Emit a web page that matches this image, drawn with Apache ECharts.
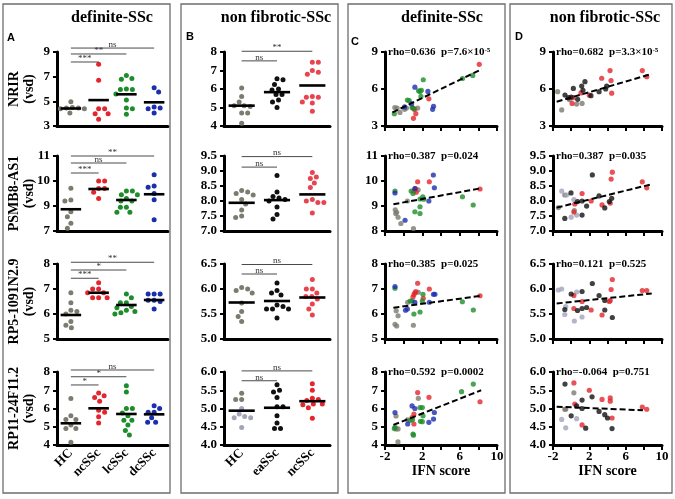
<!DOCTYPE html>
<html><head><meta charset="utf-8">
<script src="https://cdn.jsdelivr.net/npm/echarts@6/dist/echarts.min.js"></script>
<style>html,body{margin:0;padding:0;background:#fff}#c{width:675px;height:499px}</style>
</head><body><div id="c"></div>
<script>
// ---------------- DATA ----------------
const catsA = ['HC','ncSSc','lcSSc','dcSSc'];
const catsB = ['HC','eaSSc','ncSSc'];
const genes = ['NRIR','PSMB8-AS1','RP5-1091N2.9','RP11-24F11.2'];
const titles = ['definite-SSc','non fibrotic-SSc','definite-SSc','non fibrotic-SSc'];
const panelLetters = ['A','B','C','D'];
const yRangeA = [[3,9,2],[8,11,1],[5,8,1],[4,8,1]];
const yRangeB = [[4,8,1],[7,9.5,0.5],[5,6.5,0.5],[4,6,0.5]];
const yRangeC = [[3,9,3],[8,11,1],[5,8,1],[4,8,1]];
const yRangeD = [[3,9,3],[7,9.5,0.5],[5,6.5,0.5],[4,6,0.5]];
const yTickLabelA2 = {8:'7', 9:'9', 10:'10', 11:'11'};
const xTicksIFN = [-2, 2, 6, 10];

// Panel A (definite-SSc groups)
const A1_HC = [4.97,4.45,4.40,4.45,4.50,4.40,4.05];
const A1_nc = [8.0,6.7,4.4,4.4,4.0,4.0,3.55];
const A1_lc = [7.1,6.85,6.8,6.0,5.95,5.95,5.6,5.1,4.4,4.45,3.95];
const A1_dc = [6.1,5.75,4.55,4.4,4.45,4.05];
const A1_mean = [4.42,5.1,5.57,4.92];
const A2_HC = [9.71,9.24,9.2,8.77,8.57,8.31,8.11];
const A2_nc = [10.0,10.0,9.7,9.7,9.55,9.3];
const A2_lc = [9.6,9.6,9.45,9.45,9.3,9.2,9.2,8.95,8.95,8.75,8.75];
const A2_dc = [10.25,9.8,9.75,9.5,9.25,8.45];
const A2_mean = [8.87,9.68,9.24,9.47];
const A3_HC = [6.85,6.45,6.15,6.1,6.0,5.7,5.55,5.45];
const A3_nc = [7.25,7.0,7.0,6.85,6.85,6.65,6.65,6.65];
const A3_lc = [6.8,6.65,6.45,6.45,6.3,6.25,6.15,6.1,6.05,6.0];
const A3_dc = [6.8,6.8,6.8,6.55,6.55,6.5,6.2];
const A3_mean = [5.96,6.85,6.36,6.56];
const A4_HC = [6.55,5.6,5.4,5.4,5.1,4.9,4.9,4.15];
const A4_nc = [6.85,6.7,6.6,6.4,5.9,5.8,5.55,5.2];
const A4_lc = [7.25,6.9,6.0,6.0,5.75,5.6,5.35,5.35,5.1,4.8,4.55];
const A4_dc = [6.15,6.0,5.8,5.8,5.5,5.25,5.25];
const A4_mean = [5.19,6.01,5.7,5.68];
const A_sigTo = [3,2,1];
const A1_sigY = [9.32,8.84,8.19], A1_sigLab = ['ns','**','***'];
const A2_sigY = [11.0,10.72,10.32], A2_sigLab = ['**','ns','***'];
const A3_sigY = [8.07,7.76,7.43], A3_sigLab = ['**','*','***'];
const A4_sigY = [8.11,7.74,7.29], A4_sigLab = ['ns','*','*'];

// Panel B (non fibrotic-SSc groups)
const B1_HC = [6.05,5.6,5.3,5.1,5.1,5.05,4.7,4.7,4.15];
const B1_ea = [6.55,6.5,6.25,6.0,5.95,5.7,5.7,5.4,5.3,5.0];
const B1_nc = [7.45,7.45,7.0,6.9,6.8,5.6,5.55,5.55,5.3,5.25,4.8];
const B1_mean = [5.1,5.83,6.19];
const B2_HC = [8.35,8.3,8.25,8.2,8.05,7.9,7.7,7.5,7.45];
const B2_ea = [8.85,8.3,8.15,8.1,8.05,8.0,7.8,7.55,7.4];
const B2_nc = [8.95,8.8,8.75,8.6,8.45,8.05,8.0,7.95,7.95,7.6];
const B2_mean = [7.94,8.03,8.22];
const B3_HC = [6.03,6.0,5.97,5.92,5.72,5.55,5.45,5.35];
const B3_ea = [6.12,5.97,5.92,5.88,5.68,5.65,5.6,5.6,5.6,5.42];
const B3_nc = [6.19,6.0,6.0,5.92,5.85,5.85,5.8,5.7,5.6,5.48];
const B3_mean = [5.73,5.76,5.83];
const B4_HC_dark = [5.42,5.25,5.25];
const B4_HC_light = [5.0,4.85,4.78,4.75,4.75,4.48];
const B4_ea = [5.65,5.5,5.45,5.3,5.05,5.05,4.8,4.6,4.45,4.45];
const B4_nc = [5.68,5.5,5.28,5.25,5.22,5.12,5.12,5.1,5.02,4.73];
const B4_mean = [4.94,5.02,5.2];
const B_sigTo = [2,1];
const B1_sigY = [8.04,7.52], B1_sigLab = ['**','ns'];
const B2_sigY = [9.48,9.13], B2_sigLab = ['ns','ns'];
const B3_sigY = [6.49,6.3], B3_sigLab = ['ns','ns'];
const B4_sigY = [6.03,5.76], B4_sigLab = ['ns','ns'];

// Panel C (IFN score vs expression, definite-SSc)
const C1_HC = [[-0.95,4.5],[-0.7,4.45],[-0.4,4.1],[0.3,4.45],[1.5,4.45],[0.1,4.35]];
const C1_nc = [[8.1,8.0],[2.7,5.2],[1.15,4.35],[1.3,4.0],[1.05,3.62],[1.0,4.45]];
const C1_lc = [[7.4,7.1],[6.3,6.85],[2.1,6.75],[1.9,5.9],[1.6,5.85],[1.75,5.8],[1.85,5.4],[0.4,5.1],[0.6,5.05],[0.9,4.5],[1.1,4.4],[-1.0,4.0]];
const C1_dc = [[1.2,6.15],[2.6,5.8],[3.2,4.6],[3.1,4.35],[0.1,4.55],[0.85,4.8]];
const C1_fit = [[-1.2,4.1],[8.35,7.6]];
const C2_HC = [[1.55,9.65],[0.4,9.2],[-0.9,8.85],[-0.75,8.75],[-0.85,8.7],[-0.6,8.55],[-0.3,8.3],[1.05,8.1]];
const C2_nc = [[1.5,9.97],[2.75,9.97],[1.1,9.6],[1.25,9.7],[1.35,9.55],[8.18,9.68]];
const C2_lc = [[-0.93,9.6],[0.8,9.6],[1.0,9.5],[2.05,9.37],[2.15,9.27],[1.75,9.28],[1.75,8.97],[1.2,8.77],[1.75,8.7],[6.3,9.37],[7.45,9.04]];
const C2_dc = [[-0.93,9.52],[3.18,10.24],[3.29,9.73],[1.2,9.7],[2.7,9.2],[0.15,8.43]];
const C2_fit = [[-1.1,9.07],[8.3,9.71]];
const C3_HC = [[1.57,6.87],[0.43,6.47],[-0.8,6.13],[-0.6,5.93],[-0.93,5.59],[-0.75,5.52],[1.04,5.55]];
const C3_nc = [[1.5,7.23],[2.75,7.0],[1.2,6.85],[1.1,6.78],[1.3,6.9],[1.0,6.68],[2.1,6.63],[8.18,6.73]];
const C3_lc = [[-0.93,7.03],[2.07,6.79],[0.7,6.52],[0.9,6.52],[2.0,6.52],[1.1,6.0],[1.75,6.08],[6.29,6.49],[7.46,6.16]];
const C3_dc = [[-0.93,7.1],[3.2,6.79],[3.35,6.79],[1.2,6.47],[2.75,6.47],[0.4,6.2],[0.2,6.15]];
const C3_fit = [[-1.1,6.25],[8.3,6.73]];
const C4_HC = [[1.57,6.56],[-0.82,5.59],[0.4,5.38],[-0.8,4.88],[-0.6,4.88],[-0.61,4.17]];
const C4_nc = [[1.5,6.87],[2.71,6.61],[8.18,6.37],[1.1,5.7],[0.9,5.5],[1.1,5.15]];
const C4_lc = [[7.46,7.34],[6.2,6.92],[1.75,6.05],[2.0,6.05],[2.07,5.6],[0.7,5.35],[0.95,5.38],[1.8,5.3],[2.0,5.28],[-0.93,4.97],[-1.0,4.9],[1.0,4.6],[1.05,4.54]];
const C4_dc = [[0.9,6.14],[1.2,6.0],[-0.93,5.78],[3.29,5.78],[3.2,5.42],[2.7,5.24],[0.43,5.15]];
const C4_fit = [[-1.1,5.1],[8.3,7.0]];
const C_stats = ['rho=0.636  p=7.6×10{s|-5}','rho=0.387  p=0.024','rho=0.385  p=0.025','rho=0.592  p=0.0002'];

// Panel D (IFN score vs expression, non fibrotic-SSc)
const D1_HC = [[-1.49,5.78],[-0.2,5.14],[0.6,4.78],[1.2,4.83],[-1.04,4.3]];
const D1_HCl = [];
const D1_nc = [[7.83,7.49],[8.32,7.0],[4.28,7.49],[3.36,6.87],[4.39,6.68],[4.46,5.66],[1.08,5.68],[0.2,5.3],[0.1,4.83],[2.0,5.5]];
const D1_ea = [[1.52,6.59],[1.16,6.24],[3.91,6.24],[3.8,6.0],[1.3,5.9],[3.07,5.78],[0.24,6.05],[-0.68,5.51],[0.0,5.35],[2.18,5.46],[0.72,5.16],[-0.3,5.3]];
const D1_fit = [[-1.6,4.97],[8.87,7.22]];
const D2_HC = [[-0.7,8.2],[-1.4,7.78],[0.35,7.68]];
const D2_HCl = [[-1.04,8.33],[-0.5,8.2],[0.3,8.05],[0.6,7.53],[0.0,7.46]];
const D2_nc = [[4.53,8.96],[4.4,8.73],[7.83,8.64],[8.32,8.44],[1.2,8.25],[2.2,8.0],[0.4,7.9],[3.4,7.87],[4.3,7.93],[0.3,7.63]];
const D2_ea = [[2.33,8.87],[-0.02,8.27],[3.07,8.17],[4.46,8.09],[0.7,7.98],[1.2,8.0],[4.2,7.98],[1.7,7.83],[3.7,7.77],[1.2,7.53],[-0.7,7.42]];
const D2_fit = [[-1.6,7.78],[8.87,8.56]];
const D3_HC = [];
const D3_HCl = [[-1.42,5.98],[-1.05,6.0],[0.6,5.94],[-0.7,5.49],[0.35,5.36],[1.2,5.44],[-0.6,5.65]];
const D3_nc = [[4.53,6.19],[4.4,5.99],[7.83,5.97],[8.32,5.97],[0.3,5.87],[4.2,5.75],[4.3,5.77],[1.2,5.75],[0.3,5.61],[2.2,5.58],[3.4,5.48]];
const D3_ea = [[2.33,6.11],[1.2,5.95],[0.0,5.9],[3.07,5.87],[3.7,5.77],[1.7,5.63],[-0.7,5.59],[0.7,5.57],[1.2,5.61],[3.7,5.58],[4.53,5.43]];
const D3_fit = [[-1.6,5.71],[8.87,5.91]];
const D4_HC = [[0.3,5.43],[-0.7,4.98],[-0.6,4.98]];
const D4_HCl = [[-1.04,4.7],[0.6,4.72],[-0.6,4.47]];
const D4_nc = [[0.3,5.7],[2.0,5.5],[3.4,5.25],[4.3,5.29],[4.3,5.2],[0.4,5.12],[7.83,5.04],[8.32,4.98],[4.5,4.74],[1.2,4.55]];
const D4_ea = [[-0.68,5.67],[2.3,5.32],[1.2,5.23],[0.6,5.07],[1.2,5.0],[3.07,4.92],[3.7,4.83],[4.0,4.74],[0.0,4.8],[1.6,4.46],[4.5,4.45]];
const D4_fit = [[-1.6,5.05],[7.9,4.95]];
const D_stats = ['rho=0.682  p=3.3×10{s|-5}','rho=0.387  p=0.035','rho=0.121  p=0.525','rho=-0.064  p=0.751'];

// ---------------- STYLE / LAYOUT ----------------
const SERIF = '"Liberation Serif", "Times New Roman", serif';
const SANS = '"Liberation Sans", Arial, sans-serif';
const cGrey = '#7b7b6f', cLight = '#a3a3ba', cRed = '#e3262d', cRedB = '#e8444f',
      cGreen = '#1d8d2b', cBlue = '#1b2eae', cBlack = '#111111';
const colLeft = [57, 224, 385, 553], colWidth = [111, 106, 112, 109];
const rowTop = [52, 156, 264, 372], rowHeight = [74, 75, 75, 73];

const Arows = [
  {g:[[A1_HC,cGrey],[A1_nc,cRed],[A1_lc,cGreen],[A1_dc,cBlue]], mean:A1_mean, sigY:A1_sigY, sigLab:A1_sigLab},
  {g:[[A2_HC,cGrey],[A2_nc,cRed],[A2_lc,cGreen],[A2_dc,cBlue]], mean:A2_mean, sigY:A2_sigY, sigLab:A2_sigLab},
  {g:[[A3_HC,cGrey],[A3_nc,cRed],[A3_lc,cGreen],[A3_dc,cBlue]], mean:A3_mean, sigY:A3_sigY, sigLab:A3_sigLab},
  {g:[[A4_HC,cGrey],[A4_nc,cRed],[A4_lc,cGreen],[A4_dc,cBlue]], mean:A4_mean, sigY:A4_sigY, sigLab:A4_sigLab}
];
const Brows = [
  {g:[[B1_HC,cGrey,0],[B1_ea,cBlack,1],[B1_nc,cRedB,2]], mean:B1_mean, sigY:B1_sigY, sigLab:B1_sigLab},
  {g:[[B2_HC,cGrey,0],[B2_ea,cBlack,1],[B2_nc,cRedB,2]], mean:B2_mean, sigY:B2_sigY, sigLab:B2_sigLab},
  {g:[[B3_HC,cGrey,0],[B3_ea,cBlack,1],[B3_nc,cRedB,2]], mean:B3_mean, sigY:B3_sigY, sigLab:B3_sigLab},
  {g:[[B4_HC_dark,cGrey,0],[B4_HC_light,cLight,0],[B4_ea,cBlack,1],[B4_nc,cRed,2]], mean:B4_mean, sigY:B4_sigY, sigLab:B4_sigLab}
];
const Crows = [
  {s:[[C1_HC,cGrey],[C1_nc,cRed],[C1_lc,cGreen],[C1_dc,cBlue]], fit:C1_fit},
  {s:[[C2_HC,cGrey],[C2_nc,cRed],[C2_lc,cGreen],[C2_dc,cBlue]], fit:C2_fit},
  {s:[[C3_HC,cGrey],[C3_nc,cRed],[C3_lc,cGreen],[C3_dc,cBlue]], fit:C3_fit},
  {s:[[C4_HC,cGrey],[C4_nc,cRed],[C4_lc,cGreen],[C4_dc,cBlue]], fit:C4_fit}
];
const Drows = [
  {s:[[D1_HC,cGrey],[D1_HCl,cLight],[D1_nc,cRed],[D1_ea,cBlack]], fit:D1_fit},
  {s:[[D2_HC,cGrey],[D2_HCl,cLight],[D2_nc,cRed],[D2_ea,cBlack]], fit:D2_fit},
  {s:[[D3_HC,cGrey],[D3_HCl,cLight],[D3_nc,cRed],[D3_ea,cBlack]], fit:D3_fit},
  {s:[[D4_HC,cGrey],[D4_HCl,cLight],[D4_nc,cRed],[D4_ea,cBlack]], fit:D4_fit}
];

// ---------------- BUILD ----------------
const grids = [], xAxes = [], yAxes = [], series = [], graphics = [];

function swarmOffsets(data, ppu, D) {
  const off = new Array(data.length).fill(0);
  const byCat = {};
  data.forEach((d, i) => { (byCat[d[0]] = byCat[d[0]] || []).push(i); });
  Object.keys(byCat).forEach(k => {
    const idxs = byCat[k].slice().sort((a, b) => data[b][1] - data[a][1]);
    const placed = [];
    idxs.forEach((i, n) => {
      const y = data[i][1] * ppu;
      let best = 0;
      for (let s = 0; s < 80; s += 0.5) {
        const cands = n % 2 ? [s, -s] : [-s, s];
        let ok = null;
        for (const x of cands) {
          if (placed.every(p => (p.x - x) * (p.x - x) + (p.y - y) * (p.y - y) >= D * D)) { ok = x; break; }
        }
        if (ok !== null) { best = ok; break; }
      }
      placed.push({x: best, y});
      off[i] = best;
    });
  });
  return off;
}

function yAxisDef(gi, rng, fmt) {
  return {
    type: 'value', gridIndex: gi, min: rng[0], max: rng[1], interval: rng[2],
    axisLine: {show: true, onZero: false, lineStyle: {color: '#000', width: 3}},
    axisTick: {show: true, length: 4, lineStyle: {color: '#000', width: 2}},
    axisLabel: {show: true, color: '#000', fontFamily: SERIF, fontWeight: 'bold', fontSize: 13, margin: 7, formatter: fmt},
    splitLine: {show: false}
  };
}

function catPanel(col, rows, cats, ranges, sigTo) {
  rows.forEach((row, r) => {
    const gi = grids.length;
    grids.push({left: colLeft[col], top: rowTop[r], width: colWidth[col], height: rowHeight[r]});
    xAxes.push({
      type: 'category', gridIndex: gi, data: cats, boundaryGap: true,
      axisLine: {show: true, onZero: false, lineStyle: {color: '#000', width: 3}},
      axisTick: {show: false},
      axisLabel: {show: r === 3, interval: 0, rotate: 45, margin: 6, color: '#000', fontFamily: SERIF, fontWeight: 'bold', fontSize: 13},
      splitLine: {show: false}
    });
    const rng = ranges[r];
    let fmt;
    if (col === 0 && r === 1) fmt = v => (yTickLabelA2[v] !== undefined ? yTickLabelA2[v] : String(v));
    else if (rng[2] < 1) fmt = v => v.toFixed(1);
    else fmt = v => String(v);
    yAxes.push(yAxisDef(gi, rng, fmt));

    // points
    const data = [], colors = [];
    row.g.forEach((grp, k) => {
      const cat = grp.length > 2 ? grp[2] : k;
      grp[0].forEach(v => { data.push([cat, v]); colors.push(grp[1]); });
    });
    let cache = null;
    series.push({
      type: 'custom', xAxisIndex: gi, yAxisIndex: gi, data, clip: false, z: 3,
      encode: {x: 0, y: 1}, silent: true,
      renderItem(params, api) {
        const ppu = api.size([0, 1])[1];
        if (!cache || cache.ppu !== ppu) cache = {ppu, off: swarmOffsets(data, ppu, 5.9)};
        const p = api.coord([api.value(0), api.value(1)]);
        return {type: 'circle', shape: {cx: p[0] + cache.off[params.dataIndex], cy: p[1], r: 2.5},
                style: {fill: colors[params.dataIndex]}};
      }
    });
    // mean lines
    series.push({
      type: 'custom', xAxisIndex: gi, yAxisIndex: gi, data: row.mean.map((m, i) => [i, m]),
      clip: false, z: 5, encode: {x: 0, y: 1}, silent: true,
      renderItem(params, api) {
        const p = api.coord([api.value(0), api.value(1)]);
        const h = api.size([1, 0])[0] * 0.37;
        return {type: 'line', shape: {x1: p[0] - h, y1: p[1], x2: p[0] + h, y2: p[1]},
                style: {stroke: '#000', lineWidth: 2.6}};
      }
    });
    // significance brackets
    const sigData = row.sigY.map((y, i) => [0, sigTo[i], y]);
    const labs = row.sigLab;
    series.push({
      type: 'custom', xAxisIndex: gi, yAxisIndex: gi, data: sigData, clip: false, z: 4,
      encode: {x: [0, 1], y: 2}, silent: true,
      renderItem(params, api) {
        const p1 = api.coord([api.value(0), api.value(2)]);
        const p2 = api.coord([api.value(1), api.value(2)]);
        return {type: 'group', children: [
          {type: 'line', shape: {x1: p1[0], y1: p1[1], x2: p2[0], y2: p2[1]}, style: {stroke: '#4a4a4a', lineWidth: 1}},
          {type: 'text', style: {text: labs[params.dataIndex], x: (p1[0] + p2[0]) / 2, y: p1[1] + 1,
            align: 'center', verticalAlign: 'bottom', font: '9px ' + SERIF, fill: '#333'}}
        ]};
      }
    });
  });
}

function ifnPanel(col, rows, ranges, stats) {
  rows.forEach((row, r) => {
    const gi = grids.length;
    grids.push({left: colLeft[col], top: rowTop[r], width: colWidth[col], height: rowHeight[r]});
    xAxes.push({
      type: 'value', gridIndex: gi, min: -2, max: 10, interval: 2,
      axisLine: {show: true, onZero: false, lineStyle: {color: '#000', width: 3}},
      axisTick: {show: true, length: 5, lineStyle: {color: '#000', width: 2}},
      axisLabel: {show: r === 3, margin: 5, color: '#000', fontFamily: SERIF, fontWeight: 'bold', fontSize: 13,
                  formatter: v => (xTicksIFN.indexOf(v) >= 0 ? String(v) : '')},
      name: r === 3 ? 'IFN score' : '', nameLocation: 'middle', nameGap: 19,
      nameTextStyle: {color: '#000', fontFamily: SERIF, fontWeight: 'bold', fontSize: 14},
      splitLine: {show: false}
    });
    const rng = ranges[r];
    yAxes.push(yAxisDef(gi, rng, rng[2] < 1 ? (v => v.toFixed(1)) : (v => String(v))));
    row.s.forEach(s => {
      series.push({type: 'scatter', xAxisIndex: gi, yAxisIndex: gi, data: s[0], symbol: 'circle', symbolSize: 5.2,
                   itemStyle: {color: s[1]}, z: 3, silent: true});
    });
    series.push({type: 'line', xAxisIndex: gi, yAxisIndex: gi, data: row.fit, symbol: 'none', z: 4, silent: true,
                 lineStyle: {color: '#000', width: 2, type: [6, 3]}});
    graphics.push({type: 'text', x: colLeft[col] + 3, y: rowTop[r], z: 10,
      style: {text: stats[r], fill: '#000', font: 'bold 11px ' + SERIF, verticalAlign: 'middle',
              rich: {s: {fontSize: 7, fontWeight: 'bold', fontFamily: SERIF, verticalAlign: 'top', fill: '#000'}}}});
  });
}

catPanel(0, Arows, catsA, yRangeA, A_sigTo);
catPanel(1, Brows, catsB, yRangeB, B_sigTo);
ifnPanel(2, Crows, yRangeC, C_stats);
ifnPanel(3, Drows, yRangeD, D_stats);

// boxes
[[3,4,167,489],[181,4,157,489],[348,4,157,489],[510,4,162,489]].forEach(b => {
  graphics.push({type: 'rect', shape: {x: b[0], y: b[1], width: b[2], height: b[3]},
                 style: {fill: 'none', stroke: '#6e6e6e', lineWidth: 1.3}, z: 1});
});
// titles
const titleX = [112, 276, 442, 605];
titles.forEach((t, i) => graphics.push({type: 'text', x: titleX[i], y: 18, z: 10,
  style: {text: t, font: 'bold 16px ' + SERIF, fill: '#000', align: 'center', verticalAlign: 'middle'}}));
// panel letters
const letterPos = [[7,38],[186,37],[351,42],[515,37]];
panelLetters.forEach((t, i) => graphics.push({type: 'text', x: letterPos[i][0], y: letterPos[i][1], z: 10,
  style: {text: t, font: 'bold 11px ' + SANS, fill: '#000', align: 'left', verticalAlign: 'middle'}}));
// y axis names
genes.forEach((g, r) => {
  const cy = rowTop[r] + rowHeight[r] / 2;
  graphics.push({type: 'text', x: 14, y: cy, rotation: Math.PI / 2, z: 10,
    style: {text: g, font: 'bold 14px ' + SERIF, fill: '#000', align: 'center', verticalAlign: 'middle'}});
  graphics.push({type: 'text', x: 29, y: cy, rotation: Math.PI / 2, z: 10,
    style: {text: '(vsd)', font: 'bold 14px ' + SERIF, fill: '#000', align: 'center', verticalAlign: 'middle'}});
});

const chart = echarts.init(document.getElementById('c'), null, {renderer: 'canvas'});
chart.setOption({
  animation: false,
  backgroundColor: '#fff',
  grid: grids, xAxis: xAxes, yAxis: yAxes, series: series, graphic: graphics
});
</script>
</body></html>
